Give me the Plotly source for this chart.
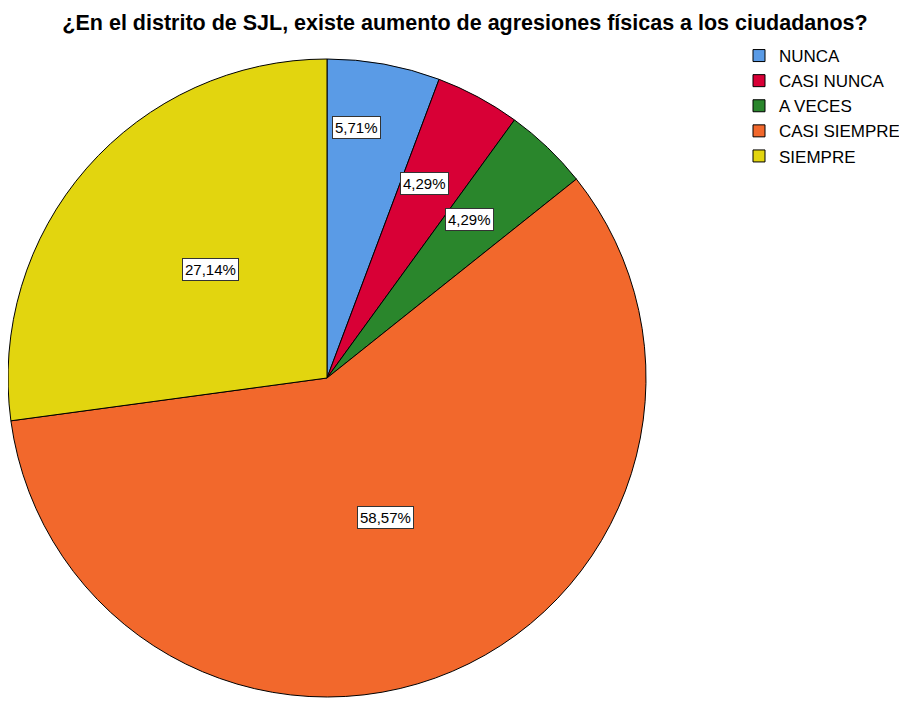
import math
import plotly.graph_objects as go

categories = ["NUNCA", "CASI NUNCA", "A VECES", "CASI SIEMPRE", "SIEMPRE"]
counts = [4, 3, 3, 41, 19]
pct_labels = ["5,71%", "4,29%", "4,29%", "58,57%", "27,14%"]

colors = ["#5A9BE6", "#D80036", "#2A862C", "#F2682C", "#E2D50F"]

W, H = 907, 713
OFF = 8                    # page body margin in the browser
cx, cy = 327 - OFF, 378 - OFF   # pie centre in figure px (from top-left)
R = cx                     # pie radius in px (limited by left edge)
label_r = [252, 218, 213, 151, 159]      # label distance from centre, px
label_da = [-3.5, -1.7, -1.7, 0.3, 1.8]  # label angle offset, degrees

fig = go.Figure()
fig.add_trace(go.Pie(
    labels=categories,
    values=counts,
    sort=False,
    direction="clockwise",
    rotation=0,
    textinfo="none",
    hoverinfo="label+percent",
    marker=dict(colors=colors, line=dict(color="#000000", width=1)),
    domain=dict(x=[(cx - R) / W, (cx + R) / W],
                y=[(H - cy - R) / H, (H - cy + R) / H]),
))

total = sum(counts)
cum = 0
for i, v in enumerate(counts):
    mid = (cum + v / 2) / total * 2 * math.pi + math.radians(label_da[i])
    cum += v
    px = cx + label_r[i] * math.sin(mid)
    py = cy - label_r[i] * math.cos(mid)
    fig.add_annotation(
        x=px / W, y=1 - py / H, xref="paper", yref="paper",
        xanchor="center", yanchor="middle",
        text=pct_labels[i], showarrow=False,
        font=dict(family="Liberation Sans, Arial, sans-serif", size=15, color="#000000"),
        bgcolor="#FFFFFF", bordercolor="#333333", borderwidth=1, borderpad=2,
    )

fig.update_layout(
    width=W, height=H,
    margin=dict(l=0, r=0, t=0, b=0),
    paper_bgcolor="#FFFFFF",
    plot_bgcolor="#FFFFFF",
    title=dict(
        text="<b>¿En el distrito de SJL, existe aumento de agresiones físicas a los ciudadanos?</b>",
        x=(465 - OFF) / W, xanchor="center", y=1 - (22 - OFF) / H, yanchor="middle",
        font=dict(family="Liberation Sans, Arial, sans-serif", size=21.5, color="#000000"),
    ),
    legend=dict(
        x=731 / W, y=1 - 30 / H, xanchor="left", yanchor="top",
        font=dict(family="Liberation Sans, Arial, sans-serif", size=17, color="#000000"),
        bgcolor="rgba(0,0,0,0)", traceorder="normal",
    ),
)

fig.write_html("out.html")
